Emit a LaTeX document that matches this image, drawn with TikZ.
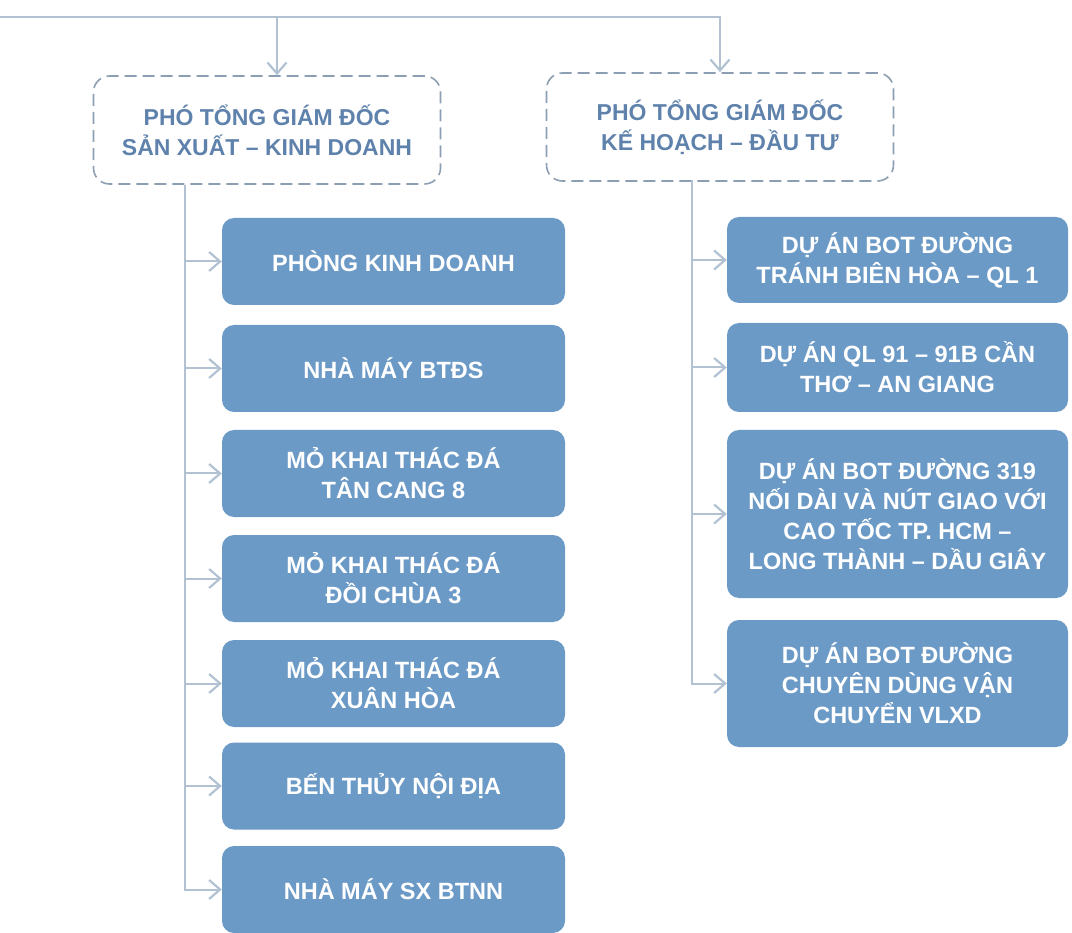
\documentclass[tikz,border=0pt]{standalone}
\usepackage{fontspec}
\setmainfont{Liberation Sans}
\usetikzlibrary{arrows.meta}
\definecolor{boxblue}{RGB}{108,154,199}
\definecolor{connc}{RGB}{178,194,211}
\definecolor{dashc}{RGB}{140,158,178}
\definecolor{headc}{RGB}{95,130,172}
\begin{document}
\begin{tikzpicture}[x=1pt,y=-1pt,
  unitbox/.style={rectangle, rounded corners=12pt, fill=boxblue, text=white,
    font=\bfseries\fontsize{23.5}{30}\selectfont, align=center, inner sep=0pt},
  leftbox/.style={unitbox, minimum width=343pt, minimum height=87pt},
  rightbox/.style={unitbox, minimum width=341pt},
  headbox/.style={rectangle, rounded corners=16pt, draw=dashc, dash pattern=on 12pt off 6pt,
    line width=1.6pt, text=headc, font=\bfseries\fontsize{23}{30}\selectfont, align=center,
    minimum width=347pt, minimum height=108pt, inner sep=0pt},
  conn/.style={draw=connc, line width=2pt},
  arr/.style={conn, -{Straight Barb[length=11pt,width=19pt,line width=2.2pt]}}]
\useasboundingbox (0,0) rectangle (1072,933);

\node[headbox] (ptl) at (267,130) {PHÓ TỔNG GIÁM ĐỐC\\SẢN XUẤT – KINH DOANH};
\node[headbox] (ptr) at (720,127) {PHÓ TỔNG GIÁM ĐỐC\\KẾ HOẠCH – ĐẦU TƯ};

\node[leftbox] (l1) at (393.5,261.5) {PHÒNG KINH DOANH};
\node[leftbox] (l2) at (393.5,368.5) {NHÀ MÁY BTĐS};
\node[leftbox] (l3) at (393.5,473.5) {MỎ KHAI THÁC ĐÁ\\TÂN CANG 8};
\node[leftbox] (l4) at (393.5,578.5) {MỎ KHAI THÁC ĐÁ\\ĐỒI CHÙA 3};
\node[leftbox] (l5) at (393.5,683.5) {MỎ KHAI THÁC ĐÁ\\XUÂN HÒA};
\node[leftbox] (l6) at (393.5,786) {BẾN THỦY NỘI ĐỊA};
\node[leftbox] (l7) at (393.5,889.5) {NHÀ MÁY SX BTNN};

\node[rightbox, minimum height=86pt] (r1) at (897.5,260) {DỰ ÁN BOT ĐƯỜNG\\TRÁNH BIÊN HÒA – QL 1};
\node[rightbox, minimum height=89pt] (r2) at (897.5,367.5) {DỰ ÁN QL 91 – 91B CẦN\\THƠ – AN GIANG};
\node[rightbox, minimum height=168pt] (r3) at (897.5,514) {DỰ ÁN BOT ĐƯỜNG 319\\NỐI DÀI VÀ NÚT GIAO VỚI\\CAO TỐC TP. HCM –\\LONG THÀNH – DẦU GIÂY};
\node[rightbox, minimum height=127pt] (r4) at (897.5,683.5) {DỰ ÁN BOT ĐƯỜNG\\CHUYÊN DÙNG VẬN\\CHUYỂN VLXD};

% top connectors
\coordinate (src) at (0,17);
\coordinate (jl) at (277,17);
\draw[arr] (src) -| (ptr.north);
\draw[arr] (jl) -- (jl |- ptl.north);

% left trunk
\coordinate (tl) at (185,185);
\draw[arr] (tl) |- (l7.west);
\foreach \i in {1,...,6} {\draw[arr] (tl |- l\i.west) -- (l\i.west);}

% right trunk
\coordinate (tr) at (692,180);
\draw[arr] (tr) |- (r4.west);
\foreach \i in {1,2,3} {\draw[arr] (tr |- r\i.west) -- (r\i.west);}
\end{tikzpicture}
\end{document}
